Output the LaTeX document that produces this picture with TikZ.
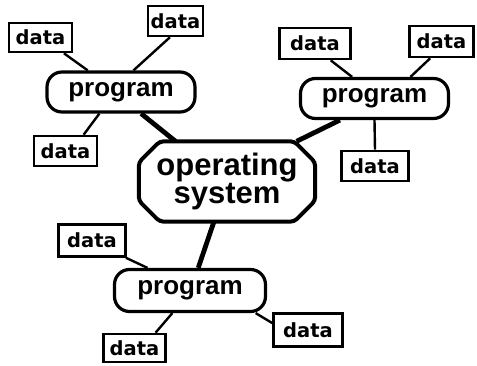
\documentclass[tikz,border=0pt]{standalone}
\usepackage{fontspec}
\newfontfamily\datafont{DejaVu Sans}
\newfontfamily\progfont{Liberation Sans}
\begin{document}
\begin{tikzpicture}[x=1pt,y=-1pt,
  databox/.style={draw, line width=2.6pt, fill=white, inner sep=0pt,
    minimum width=63pt, minimum height=29pt,
    font=\datafont\bfseries\fontsize{19.5}{20}\selectfont},
  progbox/.style={draw, line width=3.2pt, fill=white, inner sep=0pt,
    rounded corners=15pt, minimum width=148pt, minimum height=40pt,
    font=\progfont\bfseries\fontsize{26}{28}\selectfont},
  osbox/.style={inner sep=0pt, minimum width=176pt, minimum height=80pt,
    align=center, font=\progfont\bfseries\fontsize{31}{28}\selectfont},
  thin link/.style={line width=2.4pt},
  thick link/.style={line width=4.8pt}]
\fill[white] (0,0) rectangle (477,365);
\useasboundingbox (0,0) rectangle (477,365);

% operating system
\node[osbox] (os) at (227,181.5) {operating\\system};
\draw[line width=4pt, rounded corners=4pt]
  ([xshift=21pt]os.north west) -- ([xshift=-21pt]os.north east)
  -- ([yshift=-21pt]os.north east) -- ([yshift=21pt]os.south east)
  -- ([xshift=-21pt]os.south east) -- ([xshift=21pt]os.south west)
  -- ([yshift=21pt]os.south west) -- ([yshift=-21pt]os.north west) -- cycle;

% programs
\node[progbox] (p1) at (121,92) {program};
\node[progbox] (p2) at (374.5,98.5) {program};
\node[progbox, minimum width=151pt, minimum height=42pt] (p3) at (190,290.5) {program};

% data boxes
\node[databox] (d1) at (40.5,37.5) {data};
\node[databox, minimum width=55pt, minimum height=30pt] (d2) at (175.5,21) {data};
\node[databox, minimum height=30pt] (d3) at (65.5,151) {data};
\node[databox, minimum width=71pt, minimum height=31pt] (d4) at (315,43.5) {data};
\node[databox, minimum width=64pt, minimum height=31pt] (d5) at (441.5,41.5) {data};
\node[databox, minimum width=67pt, minimum height=30pt] (d6) at (375,166) {data};
\node[databox, minimum width=67pt, minimum height=32pt] (d7) at (92,240.5) {data};
\node[databox, minimum width=62pt, minimum height=28pt] (d8) at (134.5,348) {data};
\node[databox, minimum width=69pt, minimum height=33pt] (d9) at (308,330) {data};

% links: program 1
\draw[thin link] (d1.-34) -- (p1.147.5);
\draw[thin link] (d2.-109) -- (p1.60.3);
\draw[thin link] (p1.-135) -- (d3.42.4);
\draw[thick link] (p1.-47.9) -- (os.142.8);
% program 2
\draw[thin link] (d4.-47.7) -- (p2.136.3);
\draw[thin link] (d5.-124.9) -- (p2.31.2);
\draw[thin link] (p2.south) -- (d6.north);
\draw[thick link] (p2.-148.1) -- (os.30.8);
% program 3
\draw[thick link] (os.-108.6) -- (p3.70.4);
\draw[thin link] (d7.-27.9) -- (p3.152.4);
\draw[thin link] (p3.-128.7) -- (d8.36.2);
\draw[thin link] (p3.-19.1) -- (d9.169);
\end{tikzpicture}
\end{document}
